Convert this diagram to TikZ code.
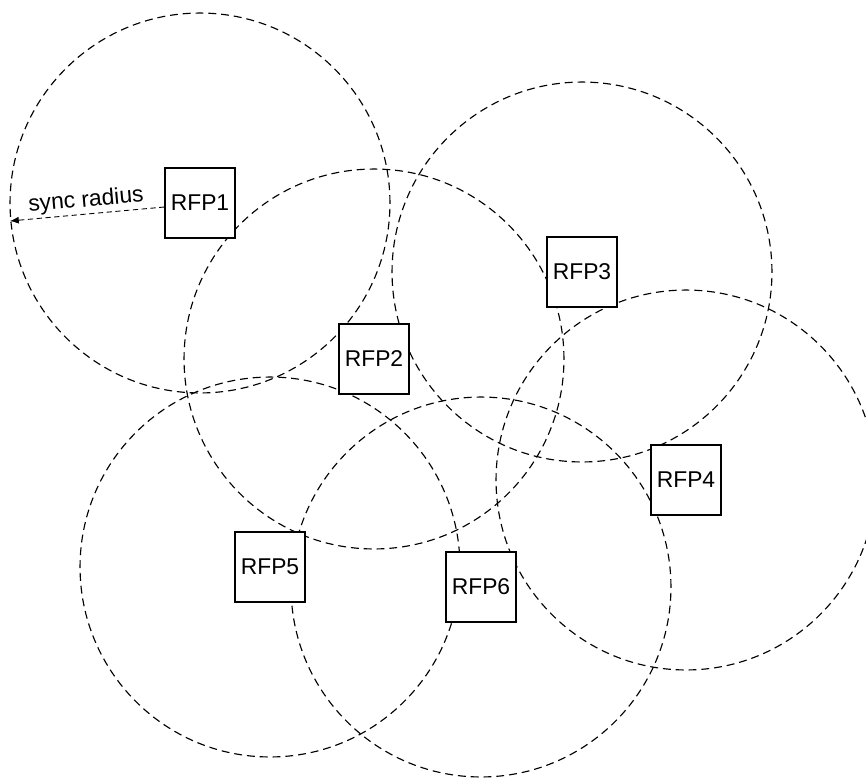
\documentclass[tikz,border=0pt]{standalone}
\usepackage{fontspec}
\setmainfont{Liberation Sans}
\usepackage{tikz}
\usetikzlibrary{calc,arrows,arrows.meta,positioning}

\begin{document}
\begin{tikzpicture}[x=0.02cm,y=-0.02cm,font=\fontsize{13}{15}\selectfont]

\tikzset{rfpnode/.style={draw,fill=white,line width=0.65pt,minimum size=1.4cm,inner sep=0pt},
syncrange/.style={line width=0.65pt,dash pattern=on 4.5pt off 2.8pt}}

% Frame
\useasboundingbox (0,0) rectangle (866,778);
\clip (0,0) rectangle (866,778);

% Base stations (placed first for the names)
\coordinate (rfp1) at (200,203);
\coordinate (rfp2) at (374,359);
\coordinate (rfp3) at (582,272);
\coordinate (rfp4) at (686,480);
\coordinate (rfp5) at (270,567);
\coordinate (rfp6) at (481,587);

% Sync ranges
\foreach \n in {1,...,6} \draw[syncrange] (rfp\n) circle [radius=3.8cm];

% Boxes on top of the ranges
\foreach \n in {1,...,6} \node[rfpnode] (box\n) at (rfp\n) {RFP\n};

% Sync radius
\coordinate (syncend) at (10,221);
\draw[densely dashed,line width=0.5pt,-{Latex[length=5pt,width=4pt]}] ($(box1.west)+(0,4)$) -- node[sloped,above,inner sep=1.2pt] (synclabel) {sync radius} (syncend);

\end{tikzpicture}
\end{document}
